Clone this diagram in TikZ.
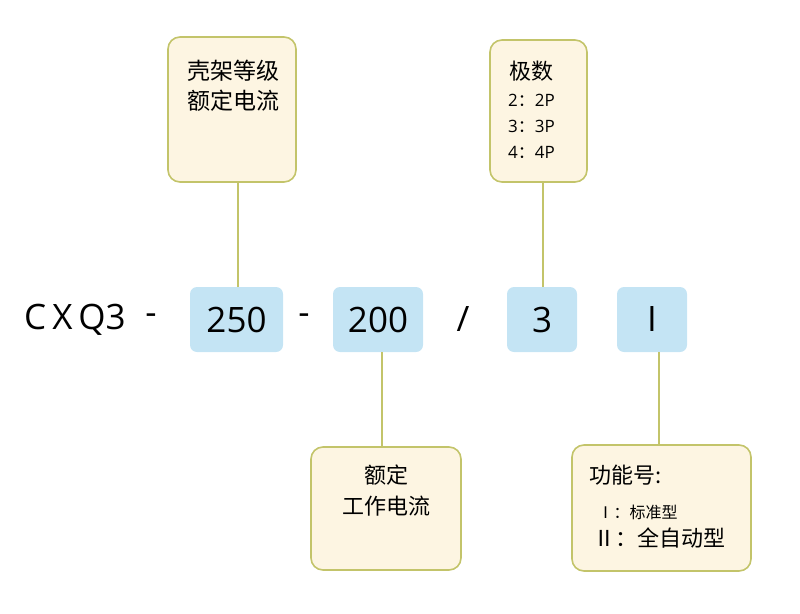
\documentclass[tikz,border=0pt]{standalone}
\usepackage{fontspec}
\setmainfont{Open Sans}
\newfontfamily\cjk{Noto Sans CJK SC}
\definecolor{bfill}{HTML}{FDF5E2}
\definecolor{bdraw}{HTML}{C3C46A}
\definecolor{blu}{HTML}{C4E4F4}
\tikzset{note/.style={draw=bdraw,line width=1.6pt,fill=bfill,rounded corners=12pt},
 code/.style={fill=blu,rounded corners=7pt},
 lnk/.style={bdraw,line width=1.6pt},
 big/.style={font=\fontsize{35}{38}\selectfont}}
\begin{document}
\begin{tikzpicture}[x=1pt,y=-1pt]
\useasboundingbox (0,0) rectangle (800,613);
% code boxes
\node[code,minimum width=93,minimum height=65] (a) at (236.5,319.5) {};
\node[code,minimum width=90,minimum height=65] (b) at (378,319.5) {};
\node[code,minimum width=70,minimum height=65] (c) at (542,319.5) {};
\node[code,minimum width=70,minimum height=65] (d) at (652,319.5) {};
\node[big] at (a) {250};
\node[big] at (b) {200};
\node[big] at (c) {3};
\node[big] at (d) {I};
\node[big,anchor=west,inner sep=0] (cx) at (24,319.5) {C\kern6pt X\kern6pt Q3};
\node[big] (m1) at (151,319.5) {-};
\node[big] (m2) at (304,319.5) {-};
\node[big] (sl) at (463,319.5) {/};
% notes
\node[note,minimum width=128,minimum height=145] (n1) at (232,109.5) {};
\node[font=\cjk\fontsize{23}{26}\selectfont,align=left] at (233,86) {壳架等级\\[4pt]额定电流};
\node[note,minimum width=97,minimum height=142] (n2) at (538.5,111) {};
\node[font=\cjk\fontsize{22}{25}\selectfont,anchor=west] at (506,71) {极数};
\node[font=\fontsize{17}{26}\selectfont,anchor=north west,align=left,inner sep=0] at (508,94) {2{\cjk：}2P\\3{\cjk：}3P\\4{\cjk：}4P};
\node[note,minimum width=150,minimum height=123] (n3) at (386,508.5) {};
\node[font=\cjk\fontsize{22}{25}\selectfont,align=center] at (386,491) {额定\\[6pt]工作电流};
\node[note,minimum width=179,minimum height=126] (n4) at (661.5,508) {};
\node[font=\cjk\fontsize{22}{25}\selectfont,anchor=west] at (586,475) {功能号:};
\node[font=\cjk\fontsize{16}{19}\selectfont,anchor=west] at (594,512) {Ⅰ：标准型};
\node[font=\cjk\fontsize{22}{25}\selectfont,anchor=west] at (590,538) {Ⅱ：全自动型};
% links
\draw[lnk] (n1.south -| 238,0) -- (a.north -| 238,0);
\draw[lnk] (n2.south -| 543,0) -- (c.north -| 543,0);
\draw[lnk] (b.south -| 382,0) -- (n3.north -| 382,0);
\draw[lnk] (d.south -| 659,0) -- (n4.north -| 659,0);
\end{tikzpicture}
\end{document}
